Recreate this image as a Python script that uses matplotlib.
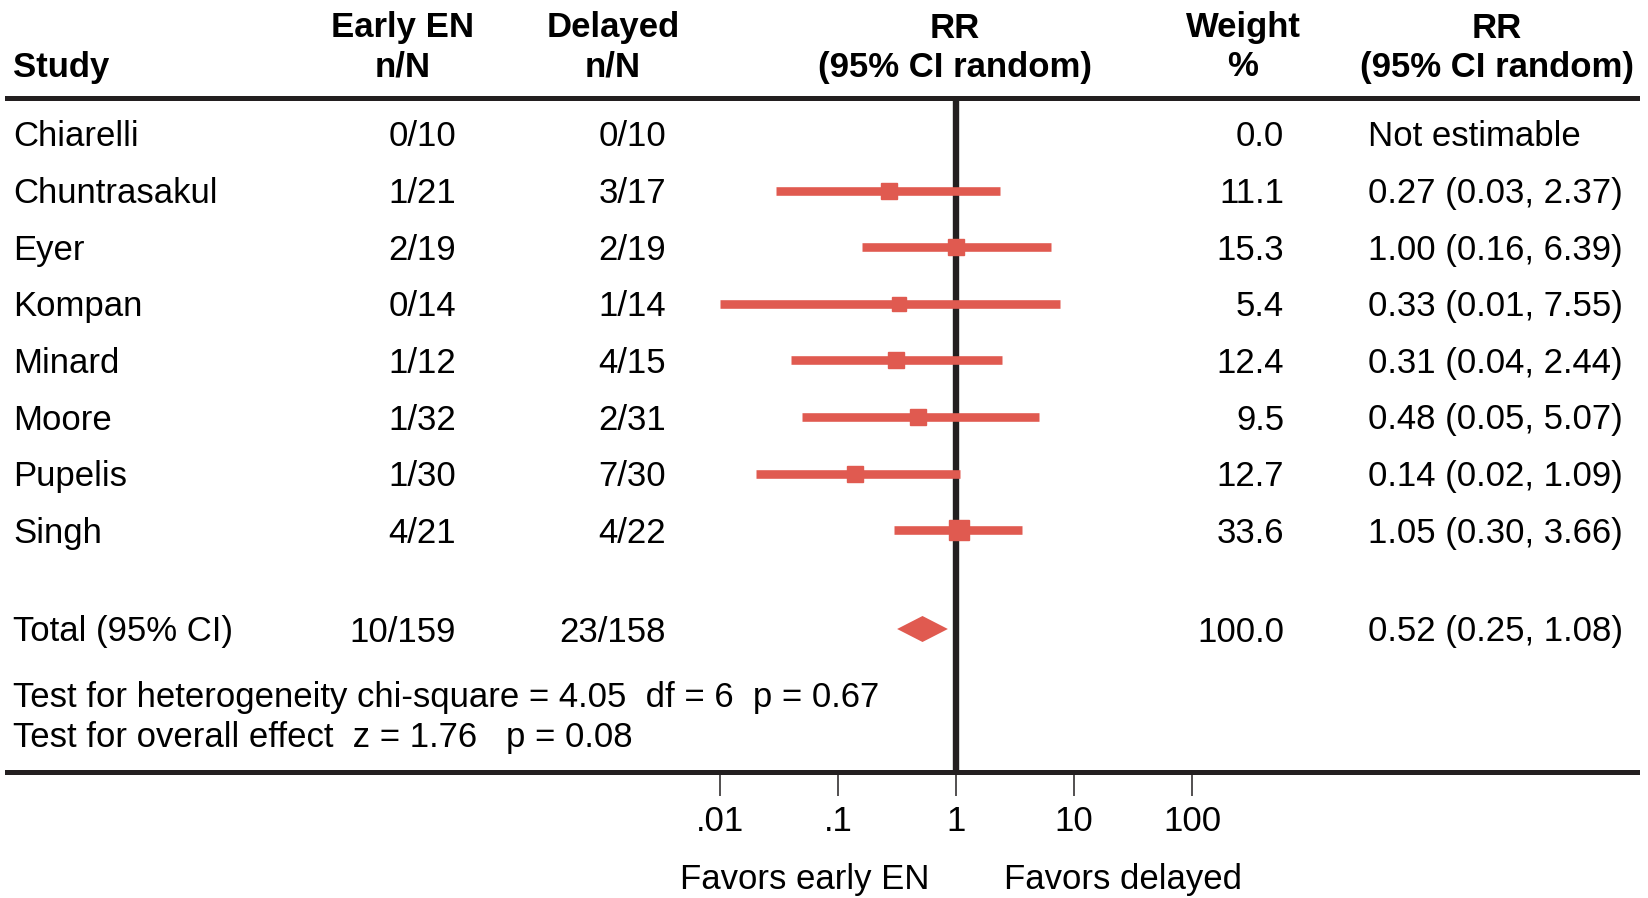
import matplotlib
matplotlib.use("Agg")
import matplotlib.pyplot as plt
import matplotlib.transforms as mtransforms
import numpy as np

studies = ["Chiarelli", "Chuntrasakul", "Eyer", "Kompan", "Minard", "Moore", "Pupelis", "Singh"]
early_en = ["0/10", "1/21", "2/19", "0/14", "1/12", "1/32", "1/30", "4/21"]
delayed = ["0/10", "3/17", "2/19", "1/14", "4/15", "2/31", "7/30", "4/22"]
weight = [0.0, 11.1, 15.3, 5.4, 12.4, 9.5, 12.7, 33.6]
rr = [np.nan, 0.27, 1.00, 0.33, 0.31, 0.48, 0.14, 1.05]
rr_lo = [np.nan, 0.03, 0.16, 0.01, 0.04, 0.05, 0.02, 0.30]
rr_hi = [np.nan, 2.37, 6.39, 7.55, 2.44, 5.07, 1.09, 3.66]

total_label = "Total (95% CI)"
total_early = "10/159"
total_delayed = "23/158"
total_weight = 100.0
total_rr, total_lo, total_hi = 0.52, 0.25, 1.08

heterogeneity = "Test for heterogeneity chi-square = 4.05  df = 6  p = 0.67"
overall = "Test for overall effect  z = 1.76   p = 0.08"
tick_values = [0.01, 0.1, 1, 10, 100]
tick_labels = [".01", ".1", "1", "10", "100"]

W, H = 1648, 898
RED = "#E05A50"
INK = "#231F20"
FS = 25

plt.rcParams.update({"font.family": ["Liberation Sans", "DejaVu Sans"], "font.size": FS})

fig = plt.figure(figsize=(W / 100, H / 100), dpi=100)

# table body lives between the two rules; y data = pixels from top
rule_top, rule_bot = 98, 772
x_left, x_right = 7, 1637
one_px, decade_px = 956, 118
ax = fig.add_axes([x_left / W, 1 - rule_bot / H, (x_right - x_left) / W, (rule_bot - rule_top) / H])
ax.set_xscale("log")
ax.set_xlim(10 ** ((x_left - one_px) / decade_px), 10 ** ((x_right - one_px) / decade_px))
ax.set_ylim(rule_bot, rule_top)
for side in ("left", "right"):
    ax.spines[side].set_visible(False)
for side in ("top", "bottom"):
    ax.spines[side].set_linewidth(3.6)
    ax.spines[side].set_color(INK)
ax.set_yticks([])
ax.set_xticks(tick_values)
ax.set_xticklabels(tick_labels)
ax.xaxis.set_minor_locator(matplotlib.ticker.NullLocator())
ax.tick_params(axis="x", direction="out", length=17, width=1.1, color=INK, pad=7, labelsize=FS)
ax.axvline(1, color=INK, lw=4.6, zorder=1)

tr = mtransforms.blended_transform_factory(fig.transFigure, ax.transData)
TEXT_DY = 3  # text sits a touch lower than the marks


def put(x, y, s, **kw):
    ax.text(x / W, y + TEXT_DY, s, transform=tr, va="center", clip_on=False, **kw)


# headers
for y, row in zip((25, 64), [("Early EN", "Delayed", "RR", "Weight", "RR"),
                             ("n/N", "n/N", "(95% CI random)", "%", "(95% CI random)")]):
    for x, s in zip((403, 613, 955, 1243, 1497), row):
        put(x, y, s, ha="center", fontweight="bold")
put(13, 64, "Study", ha="left", fontweight="bold")

row0, pitch = 134, 56.6
for i, name in enumerate(studies):
    y = row0 + i * pitch
    put(13, y, name, ha="left")
    put(456, y, early_en[i], ha="right")
    put(666, y, delayed[i], ha="right")
    put(1284, y, f"{weight[i]:.1f}", ha="right")
    if np.isnan(rr[i]):
        put(1368, y, "Not estimable", ha="left")
        continue
    put(1368, y, f"{rr[i]:.2f} ({rr_lo[i]:.2f}, {rr_hi[i]:.2f})", ha="left")
    ax.hlines(y, rr_lo[i], rr_hi[i], color=RED, lw=6.2, capstyle="butt", zorder=2)
    ax.plot(rr[i], y, marker="s", ms=(9 + 2 * np.sqrt(weight[i])) * 0.72, color=RED, mec=RED, zorder=3)

ty = 629
put(13, ty, total_label, ha="left")
put(456, ty, total_early, ha="right")
put(666, ty, total_delayed, ha="right")
put(1284, ty, f"{total_weight:.1f}", ha="right")
put(1368, ty, f"{total_rr:.2f} ({total_lo:.2f}, {total_hi:.2f})", ha="left")
half = 10 ** 0.215
ax.fill([total_rr / half, total_rr, total_rr * half, total_rr],
        [ty, ty - 13, ty, ty + 13], color=RED, lw=0, zorder=3)

put(13, 695, heterogeneity, ha="left")
put(13, 734, overall, ha="left")

put(929, 877, "Favors early EN", ha="right")
put(1004, 877, "Favors delayed", ha="left")

fig.savefig("out.png", dpi=100)
